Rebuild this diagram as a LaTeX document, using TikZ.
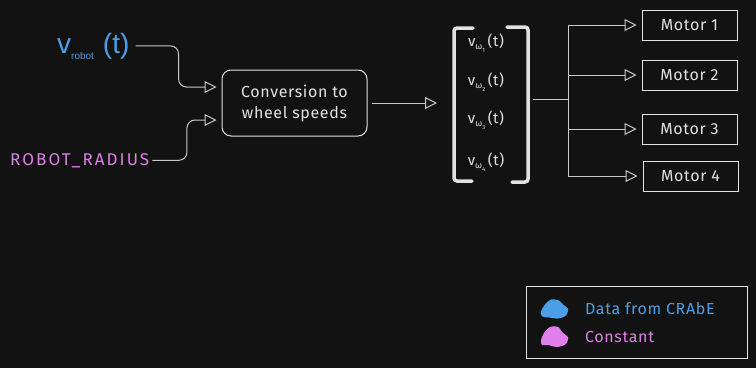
\documentclass[tikz,border=0pt]{standalone}
\usepackage{fontspec}
\setmainfont{Fira Sans}[LetterSpace=4]
\newfontfamily\helvfont{Liberation Sans}
\usetikzlibrary{arrows.meta, positioning, calc}

\definecolor{bgcol}{HTML}{121212}
\definecolor{inkcol}{HTML}{E2E2E2}
\definecolor{wirecol}{HTML}{CACACA}
\definecolor{datacol}{HTML}{4A9FE6}
\definecolor{constcol}{HTML}{E07FEA}

\newcommand\wheelv[1]{v\raisebox{-3pt}{\fontsize{9}{9}\selectfont ω\raisebox{-2.5pt}{\fontsize{6}{6}\selectfont #1}}\,(t)}

\begin{document}
\begin{tikzpicture}[
    x=1pt, y=-1pt,
    wire/.style={draw=wirecol, line width=1pt},
    arr/.style={wire, -{Triangle[open, length=12pt, width=12pt]}, shorten >=5pt},
    convbox/.style={rectangle, rounded corners=9pt, draw=inkcol, line width=1pt, minimum width=145pt, minimum height=66pt, align=center, font=\fontsize{16}{21}\selectfont, text=inkcol},
    motor/.style={rectangle, draw=inkcol, line width=1pt, minimum width=95pt, minimum height=30pt, font=\fontsize{16}{16}\selectfont, text=inkcol},
    entry/.style={text=inkcol, font=\fontsize{15}{15}\selectfont, inner sep=0pt},
    bracket/.style={draw=inkcol, line width=3.5pt, line cap=round, rounded corners=3pt},
    legendtxt/.style={anchor=west, inner sep=0pt, font=\fontsize{16}{16}\selectfont}
  ]
    \fill[bgcol] (0,0) rectangle (756,368);
    \useasboundingbox (0,0) rectangle (756,368);

    \node[convbox] (conv) at (294.5,103) {Conversion to\\wheel speeds};
    \node[anchor=base west, text=datacol, inner ysep=0pt, inner xsep=6pt, font=\helvfont\fontsize{28}{28}\selectfont] (vrobot) at (51,53) {v\raisebox{-6pt}{\fontsize{10}{10}\selectfont robot}\hspace{9pt}(t)};
    \node[anchor=base west, text=constcol, inner ysep=0pt, inner xsep=3pt, font=\fontsize{17}{17}\selectfont\addfontfeature{LetterSpace=12}] (radius) at (7,165) {ROBOT\_RADIUS};

    \coordinate (in1) at ($(conv.west)+(0,-16)$);
    \coordinate (in2) at ($(conv.west)+(0,17)$);
    \draw[arr, rounded corners=8pt] (vrobot.east) -| ($(vrobot.east)!0.5!(in1)$) |- (in1);
    \draw[arr, rounded corners=8pt] (radius.east) -| ($(radius.east)!0.5!(in2)$) |- (in2);

    \node[entry] (w1) at (486,43) {\wheelv{1}};
    \node[entry] (w2) at (486,82) {\wheelv{2}};
    \node[entry] (w3) at (486,120) {\wheelv{3}};
    \node[entry] (w4) at (486,162) {\wheelv{4}};
    \draw[bracket] (473,28) -- (454,28) -- (454,181) -- (472,181);
    \draw[bracket] (507,27) -- (528,27) -- (528,182) -- (512,182);

    \coordinate (vecin) at (453,103);
    \coordinate (vecout) at (533,99);
    \coordinate (bus) at (568,99);
    \draw[arr, shorten <=4pt, shorten >=16pt] (conv.east) -- (vecin);
    \draw[wire] (vecout) -- (bus);

    \node[motor] (m1) at (689.5,25) {Motor 1};
    \node[motor] (m2) at (689.5,75) {Motor 2};
    \node[motor] (m3) at (689.5,129) {Motor 3};
    \node[motor] (m4) at (690.5,176) {Motor 4};
    \draw[wire] (bus |- m1) -- (bus |- m4);
    \foreach \i in {1,...,4}
      \draw[arr] (bus |- m\i) -- (m\i.west);

    \node[draw=inkcol, line width=1pt, minimum width=221pt, minimum height=72pt] (legend) at (636.5,322) {};
    \fill[datacol, shift={(554,308.5)}] plot[smooth cycle] coordinates {(-13,3) (-9,-4) (-3,-9) (5,-8) (9,-4) (14,0) (12,7) (4,10) (-5,9) (-12,8)};
    \fill[constcol, shift={(554,336)}] plot[smooth cycle] coordinates {(-13,4) (-10,-3) (-4,-9) (4,-9) (9,-3) (14,1) (12,8) (3,11) (-6,9) (-12,9)};
    \node[legendtxt, text=datacol] (ldata) at (585,309) {Data from CRAbE};
    \node[legendtxt, text=constcol] (lconst) at (585,337) {Constant};
  \end{tikzpicture}
\end{document}
